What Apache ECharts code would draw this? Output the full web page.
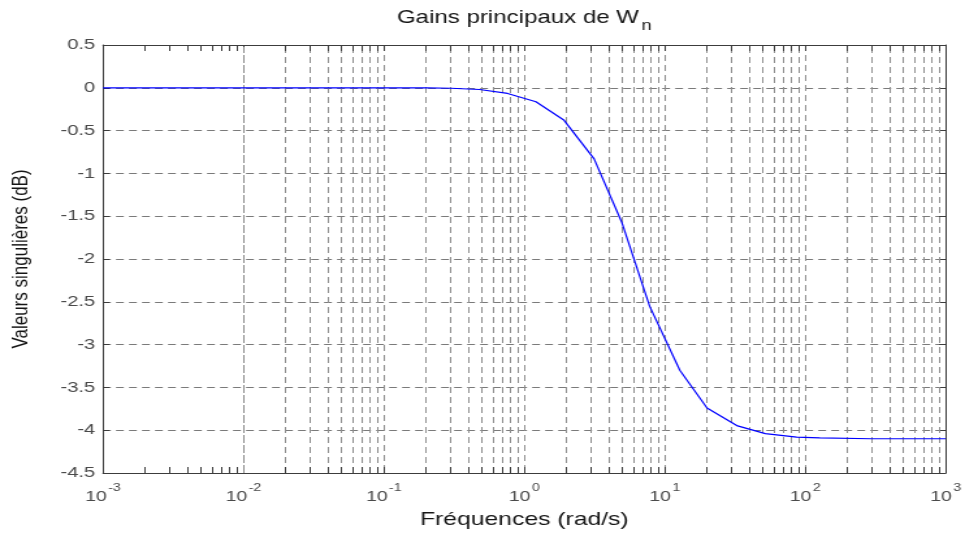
<!DOCTYPE html>
<html>
<head>
<meta charset="utf-8">
<script src="https://cdn.jsdelivr.net/npm/echarts@6/dist/echarts.min.js"></script>
<style>
html,body{margin:0;padding:0;background:#fff;overflow:hidden;width:965px;height:534px;}
#c{width:742px;height:534px;transform:scaleX(1.30054);transform-origin:0 0;}
</style>
</head>
<body>
<div id="c"></div>
<script>
// Data
var freq = [0.001, 0.01, 0.1, 0.2, 0.30, 0.48, 0.76, 1.21, 1.92, 3.14, 4.94, 7.8, 12.8, 20, 33, 52, 87, 127, 296, 1000];
var gain = [0, 0, 0, 0, -0.005, -0.02, -0.066, -0.163, -0.38, -0.83, -1.57, -2.55, -3.30, -3.74, -3.95, -4.04, -4.08, -4.09, -4.10, -4.10];
var yTicks = { min: -4.5, max: 0.5, interval: 0.5 };
var xRange = { min: 0.001, max: 1000 };
var minorMult = [2, 3, 4, 5, 6, 7, 8, 9];
var decades = [0.001, 0.01, 0.1, 1, 10, 100];
var titleText = 'Gains principaux de W';
var titleSub = 'n';
var xName = 'Fréquences (rad/s)';
var yName = 'Valeurs singulières (dB)';

var minorVals = [];
decades.forEach(function (d) { minorMult.forEach(function (m) { minorVals.push(+(d * m).toPrecision(3)); }); });

var FONT = 'Liberation Sans';
var gridStyle = { color: '#7a7a7a', type: [6, 4], width: 1 };
var vGridStyle = { color: '#8e8e8e', type: [6, 4], width: 1 };
var axisColor = '#3c3c3c';
var labelColor = '#4a4a4a';

var markLineData = minorVals.map(function (v) { return { xAxis: v, lineStyle: vGridStyle }; });
var tickLen = 0.07;
minorVals.forEach(function (v) {
  markLineData.push([{ coord: [v, yTicks.min], lineStyle: { color: axisColor, type: 'solid', width: 1 } }, { coord: [v, yTicks.min + tickLen] }]);
  markLineData.push([{ coord: [v, yTicks.max], lineStyle: { color: axisColor, type: 'solid', width: 1 } }, { coord: [v, yTicks.max - tickLen] }]);
});

var chart = echarts.init(document.getElementById('c'), null, { renderer: 'canvas' });
chart.setOption({
  animation: false,
  backgroundColor: '#fff',
  grid: { left: 79.2, right: 13.1, top: 45, bottom: 59, containLabel: false },
  xAxis: [{
    type: 'log', logBase: 10, min: xRange.min, max: xRange.max, splitNumber: 6,
    position: 'bottom',
    name: xName, nameLocation: 'middle', nameGap: 37,
    nameTextStyle: { fontFamily: FONT, fontSize: 19, color: '#151515' },
    axisLine: { show: true, onZero: false, lineStyle: { color: axisColor, width: 1 } },
    axisTick: { show: true, inside: true, length: 6, lineStyle: { color: axisColor } },
    splitLine: { show: true, lineStyle: vGridStyle },
    axisLabel: {
      margin: 8,
      formatter: function (v) { return '{b|10}{e|' + Math.round(Math.log10(v)) + '}'; },
      rich: {
        b: { fontFamily: FONT, fontSize: 15, color: labelColor, padding: [8, 0, 0, 0], verticalAlign: 'bottom' },
        e: { fontFamily: FONT, fontSize: 11, color: labelColor, padding: [0, 0, 11, 1], verticalAlign: 'bottom' }
      }
    }
  }, {
    type: 'log', logBase: 10, min: xRange.min, max: xRange.max, splitNumber: 6,
    position: 'top',
    name: '{a|' + titleText + '}{s|' + titleSub + '}', nameLocation: 'middle', nameGap: 12,
    nameTextStyle: {
      rich: {
        a: { fontFamily: FONT, fontSize: 18.5, color: '#151515', verticalAlign: 'bottom', padding: [0, 0, 6, 0] },
        s: { fontFamily: FONT, fontSize: 14, color: '#151515', verticalAlign: 'bottom', padding: [0, 0, 0, 2] }
      }
    },
    axisLine: { show: true, onZero: false, lineStyle: { color: axisColor, width: 1 } },
    axisTick: { show: true, inside: true, length: 6, lineStyle: { color: axisColor } },
    axisLabel: { show: false }, splitLine: { show: false }
  }],
  yAxis: [{
    type: 'value', min: yTicks.min, max: yTicks.max, interval: yTicks.interval,
    position: 'left',
    name: yName, nameLocation: 'middle', nameGap: 54, nameRotate: 90,
    nameTextStyle: { fontFamily: FONT, fontSize: 17, color: '#151515' },
    axisLine: { show: true, onZero: false, lineStyle: { color: axisColor, width: 1 } },
    axisTick: { show: true, inside: true, length: 5, lineStyle: { color: axisColor } },
    splitLine: { show: true, lineStyle: gridStyle },
    axisLabel: { fontFamily: FONT, fontSize: 15.5, color: labelColor, margin: 6 }
  }, {
    type: 'value', min: yTicks.min, max: yTicks.max, interval: yTicks.interval,
    position: 'right',
    axisLine: { show: true, onZero: false, lineStyle: { color: axisColor, width: 1 } },
    axisTick: { show: true, inside: true, length: 5, lineStyle: { color: axisColor } },
    axisLabel: { show: false }, splitLine: { show: false }
  }],
  series: [{
    type: 'line',
    xAxisIndex: 0, yAxisIndex: 0,
    data: freq.map(function (f, i) { return [f, gain[i]]; }),
    showSymbol: false,
    lineStyle: { color: '#0000ff', width: 1.2 },
    itemStyle: { color: '#0000ff' },
    z: 5,
    markLine: {
      silent: true, symbol: 'none', label: { show: false },
      animation: false,
      data: markLineData,
      z: 1
    }
  }]
});
</script>
</body>
</html>
